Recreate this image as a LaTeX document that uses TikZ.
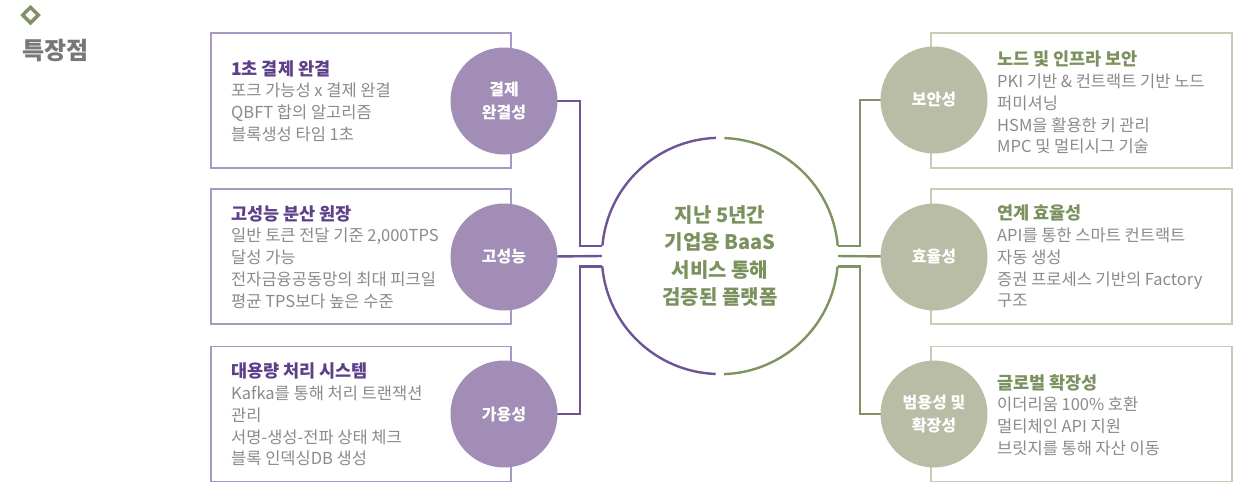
\documentclass[tikz,border=0pt]{standalone}
\usepackage{fontspec}
\setmainfont{Noto Sans CJK KR}
\usepackage{tikz}
\usetikzlibrary{positioning,shapes.geometric}
\definecolor{PlumLine}{HTML}{6E5396}
\definecolor{PlumFill}{HTML}{A28DB6}
\definecolor{PlumText}{HTML}{5D3F8A}
\definecolor{PlumBorder}{HTML}{A997C5}
\definecolor{SageLine}{HTML}{7E9262}
\definecolor{SageFill}{HTML}{BABDA5}
\definecolor{SageText}{HTML}{7B915E}
\definecolor{SageBorder}{HTML}{C8CCB5}
\definecolor{TextGray}{HTML}{8A8A8A}
\definecolor{HeadGray}{HTML}{777777}
\newcommand{\descfont}{\fontsize{16.5}{21.8}\selectfont}
\newcommand{\badgefont}{\fontsize{16}{23}\selectfont\bfseries}
\newcommand{\lefthead}[1]{{\fontsize{17.5}{21.8}\selectfont\bfseries\color{PlumText}#1}}
\newcommand{\righthead}[1]{{\fontsize{17.5}{21.8}\selectfont\bfseries\color{SageText}#1}}
\tikzset{%
  leftbox/.style={draw=PlumBorder,line width=1.5pt,minimum width=300pt,
    minimum height=135pt,inner sep=0pt},
  rightbox/.style={draw=SageBorder,line width=1.5pt,minimum width=301pt,
    minimum height=135pt,inner sep=0pt},
  leftbadge/.style={circle,fill=PlumFill,minimum size=107pt,inner sep=0pt,
    text=white,align=center,font=\badgefont},
  rightbadge/.style={circle,fill=SageFill,minimum size=107pt,inner sep=0pt,
    text=white,align=center,font=\badgefont},
  desc/.style={anchor=west,align=left,inner sep=0pt,text=TextGray,font=\descfont},
  purpleflow/.style={line width=2.4pt,PlumLine},
  greenflow/.style={line width=2.4pt,SageLine}
}

\begin{document}
\begin{tikzpicture}[x=1pt,y=-1pt]
  \useasboundingbox (0,0) rectangle (1245,483);

  % header
  \node[diamond,draw=SageLine,line width=3.5pt,minimum size=17pt,inner sep=0pt] (mark) at (30.5,15) {};
  \node[font=\fontsize{24}{27}\selectfont\bfseries,text=HeadGray] (heading) at (55.5,51) {특장점};

  % boxes
  \node[leftbox] (lbox1) at (361,100.5) {};
  \node[leftbox] (lbox2) at (361,256.5) {};
  \node[leftbox] (lbox3) at (361,414) {};
  \node[rightbox] (rbox1) at (1081.5,100.5) {};
  \node[rightbox] (rbox2) at (1081.5,256.5) {};
  \node[rightbox] (rbox3) at (1081.5,414) {};

  \node[desc] (ltext1) at (231,101) {\lefthead{1초 결제 완결}\\포크 가능성 x 결제 완결\\QBFT 합의 알고리즘\\블록생성 타임 1초};
  \node[desc] (ltext2) at (231,257) {\lefthead{고성능 분산 원장}\\일반 토큰 전달 기준 2,000TPS\\달성 가능\\전자금융공동망의 최대 피크일\\평균 TPS보다 높은 수준};
  \node[desc] (ltext3) at (231,414.5) {\lefthead{대용량 처리 시스템}\\Kafka를 통해 처리 트랜잭션\\관리\\서명-생성-전파 상태 체크\\블록 인덱싱DB 생성};
  \node[desc] (rtext1) at (997,102.5) {\righthead{노드 및 인프라 보안}\\PKI 기반 \& 컨트랙트 기반 노드\\퍼미셔닝\\HSM을 활용한 키 관리\\MPC 및 멀티시그 기술};
  \node[desc] (rtext2) at (997,256.5) {\righthead{연계 효율성}\\API를 통한 스마트 컨트랙트\\자동 생성\\증권 프로세스 기반의 Factory\\구조};
  \node[desc] (rtext3) at (997,415) {\righthead{글로벌 확장성}\\이더리움 100\% 호환\\멀티체인 API 지원\\브릿지를 통해 자산 이동};

  % centre
  \node[circle,minimum size=236pt,inner sep=0pt,align=center,text=SageText,
    font=\fontsize{20}{27.5}\selectfont\bfseries] (core) at (720,256)
    {지난 5년간\\기업용 BaaS\\서비스 통해\\검증된 플랫폼};
  \draw[purpleflow] (core.92) arc[start angle=92,end angle=175,radius=118pt];
  \draw[purpleflow] (core.185) arc[start angle=185,end angle=268,radius=118pt];
  \draw[greenflow] (core.-88) arc[start angle=-88,end angle=-5,radius=118pt];
  \draw[greenflow] (core.5) arc[start angle=5,end angle=88,radius=118pt];

  % badges
  \coordinate (kyul) at (504,101);
  \coordinate (speed) at (504,257);
  \coordinate (avail) at (504,414);
  \draw[purpleflow] (kyul) -| ([xshift=-22pt]core.175) -- (core.175);
  \draw[purpleflow] (speed) -- (core.west);
  \draw[purpleflow] (core.185) -- ([xshift=-22pt]core.185) |- (avail);
  \coordinate (secure) at (934,100);
  \coordinate (effic) at (934,257);
  \coordinate (scale) at (934,414);
  \draw[greenflow] (core.5) -- ([xshift=22pt]core.5) |- (secure);
  \draw[greenflow] (core.east) -- (effic);
  \draw[greenflow] (core.-5) -- ([xshift=22pt]core.-5) |- (scale);

  \node[leftbadge] (payment) at (kyul) {결제\\완결성};
  \node[leftbadge] (perform) at (speed) {고성능};
  \node[leftbadge] (usable) at (avail) {가용성};
  \node[rightbadge] (safety) at (secure) {보안성};
  \node[rightbadge] (efficient) at (effic) {효율성};
  \node[rightbadge] (general) at (scale) {범용성 및\\확장성};
\end{tikzpicture}
\end{document}
